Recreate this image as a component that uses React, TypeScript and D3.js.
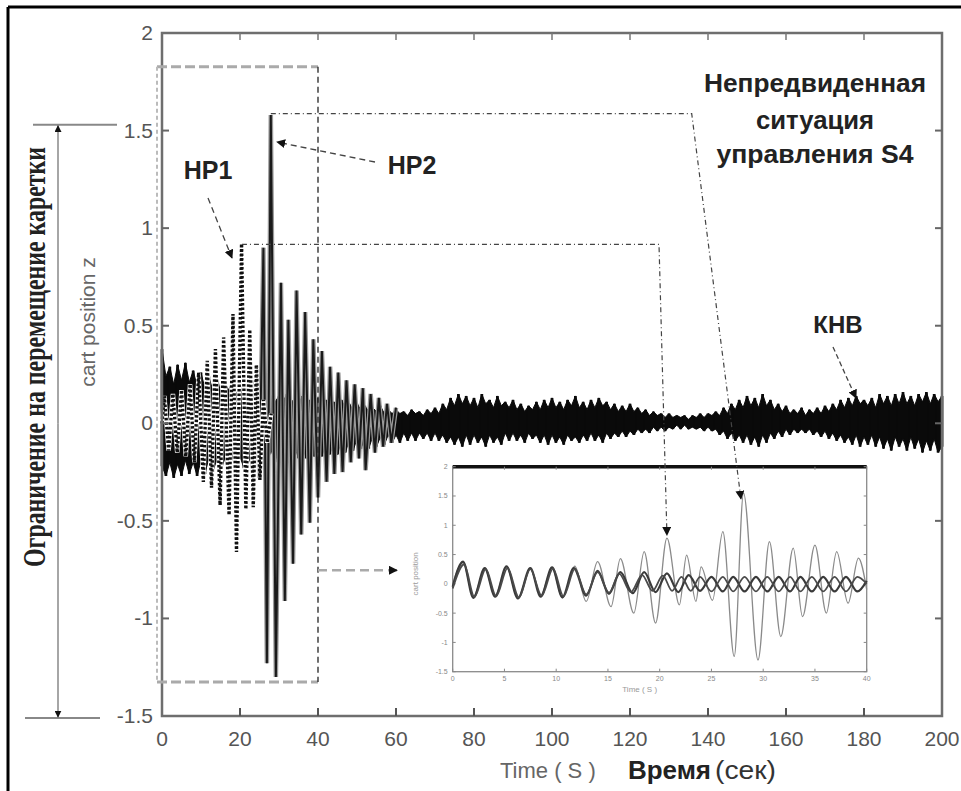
import React from 'react';
import * as d3 from 'd3';

// ---------- DATA ----------
const xTicks = [0, 20, 40, 60, 80, 100, 120, 140, 160, 180, 200];
const yTicks = [-1.5, -1, -0.5, 0, 0.5, 1, 1.5, 2];
const yTickLabels = ['-1.5', '-1', '-0.5', '0', '0.5', '1', '1.5', '2'];
const insetXTicks = [0, 5, 10, 15, 20, 25, 30, 35, 40];
const insetXLabels = ['0', '5', '10', '15', '20', '25', '30', '35', '40'];

// main (controlled) response, envelope at 1 s steps, t = 0..200
const mainUpper = [
  0.38, 0.24, 0.29, 0.20, 0.30, 0.22, 0.31, 0.21, 0.27, 0.19,
  0.26, 0.18, 0.24, 0.17, 0.25, 0.16, 0.22, 0.17, 0.21, 0.15,
  0.19, 0.14, 0.18, 0.13, 0.17, 0.12, 0.15, 0.12, 0.16, 0.11,
  0.14, 0.11, 0.15, 0.10, 0.13, 0.10, 0.14, 0.09, 0.12, 0.10,
  0.13, 0.09, 0.12, 0.08, 0.11, 0.09, 0.12, 0.08, 0.10, 0.07,
  0.10, 0.07, 0.09, 0.06, 0.08, 0.06, 0.09, 0.05, 0.07, 0.05,
  0.07, 0.05, 0.06, 0.04, 0.07, 0.05, 0.06, 0.04, 0.07, 0.05,
  0.08, 0.05, 0.10, 0.07, 0.13, 0.09, 0.15, 0.10, 0.14, 0.09,
  0.13, 0.08, 0.15, 0.10, 0.12, 0.08, 0.14, 0.09, 0.11, 0.08,
  0.12, 0.07, 0.10, 0.06, 0.09, 0.07, 0.11, 0.07, 0.12, 0.08,
  0.13, 0.08, 0.11, 0.07, 0.12, 0.09, 0.14, 0.08, 0.11, 0.07,
  0.12, 0.08, 0.13, 0.09, 0.11, 0.07, 0.10, 0.06, 0.09, 0.06,
  0.10, 0.06, 0.08, 0.05, 0.07, 0.04, 0.06, 0.04, 0.05, 0.03,
  0.05, 0.03, 0.04, 0.03, 0.04, 0.02, 0.04, 0.03, 0.05, 0.03,
  0.05, 0.04, 0.06, 0.04, 0.08, 0.05, 0.10, 0.07, 0.12, 0.08,
  0.14, 0.09, 0.13, 0.08, 0.15, 0.09, 0.12, 0.07, 0.10, 0.06,
  0.09, 0.05, 0.07, 0.05, 0.08, 0.04, 0.07, 0.05, 0.08, 0.05,
  0.09, 0.06, 0.10, 0.07, 0.12, 0.08, 0.13, 0.09, 0.14, 0.10,
  0.12, 0.09, 0.13, 0.08, 0.15, 0.10, 0.14, 0.09, 0.15, 0.10,
  0.16, 0.10, 0.14, 0.09, 0.15, 0.11, 0.16, 0.10, 0.15, 0.11,
  0.14,
];
const mainLower = [
  -0.22, -0.27, -0.20, -0.28, -0.21, -0.27, -0.19, -0.26, -0.20, -0.27,
  -0.19, -0.26, -0.18, -0.25, -0.19, -0.26, -0.18, -0.25, -0.17, -0.24,
  -0.17, -0.23, -0.16, -0.22, -0.15, -0.21, -0.15, -0.20, -0.14, -0.20,
  -0.13, -0.19, -0.13, -0.19, -0.12, -0.18, -0.12, -0.18, -0.11, -0.17,
  -0.11, -0.17, -0.10, -0.16, -0.10, -0.16, -0.09, -0.15, -0.09, -0.14,
  -0.08, -0.13, -0.08, -0.13, -0.07, -0.12, -0.07, -0.11, -0.06, -0.10,
  -0.06, -0.10, -0.05, -0.09, -0.05, -0.09, -0.05, -0.08, -0.05, -0.09,
  -0.05, -0.09, -0.06, -0.10, -0.07, -0.11, -0.07, -0.12, -0.06, -0.11,
  -0.06, -0.10, -0.07, -0.12, -0.06, -0.10, -0.07, -0.11, -0.05, -0.09,
  -0.05, -0.09, -0.06, -0.10, -0.05, -0.08, -0.06, -0.10, -0.06, -0.11,
  -0.06, -0.10, -0.07, -0.11, -0.06, -0.09, -0.07, -0.10, -0.06, -0.09,
  -0.05, -0.09, -0.06, -0.10, -0.05, -0.08, -0.05, -0.07, -0.04, -0.07,
  -0.04, -0.06, -0.03, -0.05, -0.03, -0.05, -0.02, -0.04, -0.02, -0.04,
  -0.02, -0.03, -0.01, -0.03, -0.01, -0.03, -0.02, -0.03, -0.02, -0.04,
  -0.02, -0.04, -0.03, -0.06, -0.04, -0.08, -0.05, -0.09, -0.06, -0.10,
  -0.06, -0.11, -0.07, -0.12, -0.06, -0.10, -0.05, -0.08, -0.04, -0.07,
  -0.03, -0.06, -0.03, -0.05, -0.03, -0.05, -0.03, -0.06, -0.04, -0.07,
  -0.04, -0.08, -0.05, -0.09, -0.06, -0.10, -0.07, -0.11, -0.06, -0.12,
  -0.07, -0.11, -0.06, -0.12, -0.07, -0.13, -0.08, -0.14, -0.07, -0.12,
  -0.08, -0.14, -0.07, -0.13, -0.08, -0.15, -0.09, -0.14, -0.08, -0.15,
  -0.12,
];

// HP1 (dotted) response: turning points
const hp1Time = [0.0, 0.6, 1.7, 2.8, 3.9, 5.0, 6.1, 7.2, 8.3, 9.4, 10.6, 11.6, 12.7, 13.7, 14.9, 15.8, 17.2, 18.2, 19.1, 20.4, 21.5, 22.5, 23.4, 24.2, 25.1, 26.0, 27.0, 28.0];
const hp1Value = [0.0, 0.14, -0.14, 0.15, -0.15, 0.17, -0.17, 0.2, -0.2, 0.26, -0.30, 0.32, -0.33, 0.38, -0.42, 0.44, -0.47, 0.56, -0.66, 0.92, -0.44, 0.48, -0.43, 0.30, -0.29, 0.12, -0.10, 0.05];

// HP2 (grey) response: turning points
const hp2Time = [24.0, 25.0, 26.0, 26.9, 27.9, 29.2, 30.5, 31.5, 32.4, 33.6, 34.5, 35.7, 36.7, 37.9, 38.8, 40.0, 41.0, 42.2, 43.1, 44.2, 45.2, 46.3, 47.3, 48.4, 49.4, 50.5, 51.5, 52.2, 53.5, 54.6, 55.6, 56.7, 57.7, 58.8, 60.0];
const hp2Value = [0.22, -0.28, 0.90, -1.23, 1.58, -1.30, 0.72, -0.91, 0.53, -0.72, 0.68, -0.57, 0.57, -0.51, 0.43, -0.38, 0.37, -0.30, 0.29, -0.26, 0.26, -0.25, 0.22, -0.20, 0.20, -0.18, 0.18, -0.24, 0.15, -0.15, 0.13, -0.12, 0.10, -0.10, 0.08];

// inset (zoom 0..40 s)
const insetLightTime = [0, 1.0, 2.0, 3.1, 4.1, 5.2, 6.3, 7.5, 8.5, 9.6, 10.6, 11.8, 12.9, 14.0, 15.3, 16.2, 17.5, 18.5, 19.6, 20.7, 21.9, 22.6, 23.5, 24.0, 25.1, 26.1, 27.2, 28.1, 29.5, 30.6, 31.7, 32.9, 33.8, 35.0, 36.1, 37.1, 38.2, 39.2, 40.0];
const insetLightValue = [0, 0.36, -0.22, 0.25, -0.20, 0.28, -0.24, 0.26, -0.20, 0.27, -0.24, 0.30, -0.30, 0.38, -0.39, 0.43, -0.50, 0.55, -0.67, 0.78, -0.36, 0.49, -0.30, 0.29, -0.28, 0.89, -1.24, 1.55, -1.30, 0.72, -0.90, 0.61, -0.56, 0.66, -0.50, 0.55, -0.33, 0.44, -0.10];
const insetDarkATime = [0, 1.0, 2.0, 3.1, 4.1, 5.2, 6.3, 7.5, 8.5, 9.6, 10.6, 11.7, 12.9, 14.0, 15.1, 16.2, 17.4, 18.5, 19.6, 20.7, 21.8, 22.8, 23.9, 25.0, 26.1, 27.1, 28.2, 29.3, 30.4, 31.5, 32.6, 33.6, 34.7, 35.8, 36.9, 38.0, 39.1, 40.0];
const insetDarkAValue = [-0.05, 0.38, -0.24, 0.27, -0.22, 0.30, -0.25, 0.27, -0.22, 0.28, -0.23, 0.27, -0.20, 0.22, -0.17, 0.20, -0.16, 0.20, -0.14, 0.18, -0.14, 0.15, -0.12, 0.12, -0.13, 0.12, -0.13, 0.12, -0.13, 0.12, -0.13, 0.12, -0.13, 0.12, -0.13, 0.12, -0.13, 0.05];
const insetDarkBTime = [0, 1.1, 2.1, 3.2, 4.2, 5.3, 6.4, 7.5, 8.6, 9.7, 10.7, 11.8, 12.9, 14.0, 15.1, 16.1, 17.2, 18.3, 19.3, 20.3, 21.2, 22.1, 23.0, 23.9, 25.0, 26.1, 27.1, 28.2, 29.3, 30.4, 31.5, 32.6, 33.6, 34.7, 35.8, 36.9, 38.0, 39.1, 40.0];
const insetDarkBValue = [-0.08, 0.33, -0.22, 0.25, -0.21, 0.27, -0.23, 0.25, -0.20, 0.26, -0.21, 0.25, -0.18, 0.20, -0.15, 0.17, -0.14, 0.15, -0.12, 0.14, -0.12, 0.12, -0.12, 0.12, -0.13, 0.12, -0.13, 0.12, -0.13, 0.12, -0.13, 0.12, -0.13, 0.12, -0.13, 0.12, -0.13, 0.12, 0.0];

// ---------- LAYOUT ----------
const W = 961;
const H = 791;
const SANS = "'Liberation Sans', Arial, sans-serif";
const SERIF = "'Liberation Serif', 'Times New Roman', serif";

export default function App() {
  const x = d3.scaleLinear().domain([0, 200]).range([162, 942]);
  const y = d3.scaleLinear().domain([-1.5, 2]).range([716, 33]);
  const xi = d3.scaleLinear().domain([0, 40]).range([452.7, 866.7]);
  const yi = d3.scaleLinear().domain([-1.5, 2]).range([671.7, 466.7]);

  const mainArea = d3
    .area<number>()
    .x((_, i) => x(i))
    .y0((_, i) => y(mainLower[i]))
    .y1((d) => y(d));

  const hp1Line = d3.line<number>().x((d) => x(d)).y((_, i) => y(hp1Value[i]));
  const hp2Line = d3.line<number>().x((d) => x(d)).y((_, i) => y(hp2Value[i]));

  const insetLine = (vals: number[]) =>
    d3
      .line<number>()
      .x((d) => xi(d))
      .y((_, i) => yi(vals[i]))
      .curve(d3.curveMonotoneX);

  const ix0 = xi(0), ix1 = xi(40), iy0 = yi(2), iy1 = yi(-1.5);

  // annotation anchors
  const boxL = 157, boxR = x(40), boxT = y(1.827), boxB = y(-1.326);
  const hp1Y = y(0.917), hp2Y = y(1.587);

  return (
    <svg width={W} height={H} style={{ position: 'absolute', left: 0, top: 0, background: '#fff' }}>
      <defs>
        <marker id="arr" viewBox="0 0 10 10" refX="9" refY="5" markerWidth="9" markerHeight="9" markerUnits="userSpaceOnUse" orient="auto">
          <path d="M0,0 L10,5 L0,10 z" fill="#111" />
        </marker>
        <marker id="arrS" viewBox="0 0 10 10" refX="9" refY="5" markerWidth="7" markerHeight="7" markerUnits="userSpaceOnUse" orient="auto">
          <path d="M0,0 L10,5 L0,10 z" fill="#111" />
        </marker>
      </defs>
      <rect x={0} y={0} width={W} height={H} fill="#fff" />
      {/* outer frame */}
      <line x1={8} y1={7} x2={W} y2={7} stroke="#000" strokeWidth={3} />
      <line x1={8} y1={7} x2={8} y2={H} stroke="#000" strokeWidth={3} />

      {/* main controlled response: core + spikes */}
      <path d={mainArea(mainUpper) || ''} fill="#0a0a0a" stroke="#0a0a0a" strokeWidth={1} />
      {mainUpper.map((u, i) => (
        <rect key={'mb' + i} x={x(i) - 1.4} y={y(u)} width={2.8} height={y(mainLower[i]) - y(u)} fill="#0a0a0a" />
      ))}

      {/* HP2 grey response */}
      <path d={hp2Line(hp2Time) || ''} fill="none" stroke="#9a9a9a" strokeWidth={4.5} strokeLinejoin="miter" strokeMiterlimit={2} />
      <path d={hp2Line(hp2Time) || ''} fill="none" stroke="#1a1a1a" strokeWidth={2} />

      {/* HP1 dotted response */}
      <path d={hp1Line(hp1Time) || ''} fill="none" stroke="#fff" strokeWidth={4.5} />
      <path d={hp1Line(hp1Time) || ''} fill="none" stroke="#111" strokeWidth={3.4} strokeDasharray="2.5,2" />

      {/* main axes box */}
      <rect x={x(0)} y={y(2)} width={x(200) - x(0)} height={y(-1.5) - y(2)} fill="none" stroke="#6e6e6e" strokeWidth={2.5} />
      {xTicks.slice(1, -1).map((t) => (
        <g key={'xt' + t}>
          <line x1={x(t)} x2={x(t)} y1={y(-1.5)} y2={y(-1.5) - 8} stroke="#555" strokeWidth={2} />
          <line x1={x(t)} x2={x(t)} y1={y(2)} y2={y(2) + 7} stroke="#777" strokeWidth={1.5} />
        </g>
      ))}
      {yTicks.slice(1, -1).map((t) => (
        <g key={'yt' + t}>
          <line x1={x(0)} x2={x(0) + 7} y1={y(t)} y2={y(t)} stroke="#666" strokeWidth={2} />
          <line x1={x(200)} x2={x(200) - 7} y1={y(t)} y2={y(t)} stroke="#666" strokeWidth={2} />
        </g>
      ))}
      {xTicks.map((t) => (
        <text key={'xl' + t} x={x(t)} y={746} textAnchor="middle" fontFamily={SANS} fontSize={21} fill="#555">
          {String(t)}
        </text>
      ))}
      {yTicks.map((t, i) => (
        <text key={'yl' + t} x={153} y={y(t) + 7} textAnchor="end" fontFamily={SANS} fontSize={21} fill="#555">
          {yTickLabels[i]}
        </text>
      ))}

      {/* axis titles */}
      <text x={500} y={778} fontFamily={SANS} fontSize={22} fill="#666">Time ( S )</text>
      <text x={628} y={779} fontFamily={SANS} fontSize={25} fontWeight="bold" fill="#222" textLength={83} lengthAdjust="spacingAndGlyphs">Время</text>
      <text x={715} y={779} fontFamily={SANS} fontSize={25} fill="#333" textLength={61} lengthAdjust="spacingAndGlyphs">(сек)</text>
      <text transform="translate(95,322) rotate(-90)" textAnchor="middle" fontFamily={SANS} fontSize={21} fill="#666">cart position z</text>
      <text transform="translate(45,357) rotate(-90)" textAnchor="middle" fontFamily={SERIF} fontSize={32} fontWeight="bold" fill="#222" textLength={420} lengthAdjust="spacingAndGlyphs">
        Ограничение на перемещение каретки
      </text>

      {/* constraint double arrow */}
      <line x1={33} x2={117} y1={y(1.53)} y2={y(1.53)} stroke="#888" strokeWidth={2} />
      <line x1={25} x2={100} y1={y(-1.51)} y2={y(-1.51)} stroke="#888" strokeWidth={2} />
      <line x1={58} x2={58} y1={y(0)} y2={y(1.53) + 1} stroke="#888" strokeWidth={1.5} markerEnd="url(#arrS)" />
      <line x1={58} x2={58} y1={y(0)} y2={y(-1.51) - 1} stroke="#888" strokeWidth={1.5} markerEnd="url(#arrS)" />

      {/* zoom box */}
      <line x1={boxL} x2={boxR} y1={boxT} y2={boxT} stroke="#aaa" strokeWidth={3} strokeDasharray="10,4" />
      <line x1={boxL} x2={boxR} y1={boxB} y2={boxB} stroke="#aaa" strokeWidth={3} strokeDasharray="10,4" />
      <line x1={boxL} x2={boxL} y1={boxT} y2={boxB} stroke="#bbb" strokeWidth={2} strokeDasharray="4,3" />
      <line x1={boxR} x2={boxR} y1={boxT} y2={boxB} stroke="#222" strokeWidth={1.3} strokeDasharray="6,4" />
      <line x1={boxR} x2={397} y1={y(-0.753)} y2={y(-0.753)} stroke="#aaa" strokeWidth={2.5} strokeDasharray="9,5" markerEnd="url(#arr)" />

      {/* inset */}
      <rect x={ix0} y={iy0} width={ix1 - ix0} height={iy1 - iy0} fill="#fff" stroke="#8a8a8a" strokeWidth={1.3} />
      <line x1={ix0} x2={ix1} y1={iy0} y2={iy0} stroke="#111" strokeWidth={3.5} />
      {insetXTicks.map((t, i) => (
        <g key={'ixt' + t}>
          <line x1={xi(t)} x2={xi(t)} y1={iy1} y2={iy1 - 3} stroke="#888" strokeWidth={1} />
          <line x1={xi(t)} x2={xi(t)} y1={iy0} y2={iy0 + 3} stroke="#888" strokeWidth={1} />
          <text x={xi(t)} y={iy1 + 9} textAnchor="middle" fontFamily={SANS} fontSize={7} fill="#888">{insetXLabels[i]}</text>
        </g>
      ))}
      {yTicks.map((t, i) => (
        <g key={'iyt' + t}>
          <line x1={ix0} x2={ix0 + 3} y1={yi(t)} y2={yi(t)} stroke="#888" strokeWidth={1} />
          <line x1={ix1} x2={ix1 - 3} y1={yi(t)} y2={yi(t)} stroke="#888" strokeWidth={1} />
          <text x={ix0 - 5} y={yi(t) + 2.5} textAnchor="end" fontFamily={SANS} fontSize={7} fill="#888">{yTickLabels[i]}</text>
        </g>
      ))}
      <text x={(ix0 + ix1) / 2 - 20} y={iy1 + 20} textAnchor="middle" fontFamily={SANS} fontSize={8} fill="#999">Time ( S )</text>
      <text transform={`translate(418,${yi(0) - 10}) rotate(-90)`} textAnchor="middle" fontFamily={SANS} fontSize={8} fill="#999">cart position</text>
      <path d={insetLine(insetLightValue)(insetLightTime) || ''} fill="none" stroke="#8a8a8a" strokeWidth={1.3} />
      <path d={insetLine(insetDarkAValue)(insetDarkATime) || ''} fill="none" stroke="#3a3a3a" strokeWidth={2.2} />
      <path d={insetLine(insetDarkBValue)(insetDarkBTime) || ''} fill="none" stroke="#4a4a4a" strokeWidth={1.8} />

      {/* HP1 leader */}
      <path
        d={`M${x(20.5)},${hp1Y} L659,${hp1Y} L${xi(20.7)},${yi(0.8) - 2}`}
        fill="none" stroke="#444" strokeWidth={1.2} strokeDasharray="5,3,1,3" markerEnd="url(#arr)"
      />
      {/* HP2 leader */}
      <path
        d={`M${x(27.9)},${hp2Y} L691.7,${hp2Y} L${xi(27.85)},${yi(1.45)}`}
        fill="none" stroke="#444" strokeWidth={1.2} strokeDasharray="5,3,1,3" markerEnd="url(#arr)"
      />

      {/* labels */}
      <text x={208} y={179} textAnchor="middle" fontFamily={SANS} fontSize={25} fontWeight="bold" fill="#222">HP1</text>
      <line x1={208} y1={198} x2={232} y2={258} stroke="#444" strokeWidth={1.3} strokeDasharray="6,4" markerEnd="url(#arr)" />
      <text x={412} y={174} textAnchor="middle" fontFamily={SANS} fontSize={25} fontWeight="bold" fill="#222">HP2</text>
      <line x1={375} y1={162} x2={277} y2={142} stroke="#444" strokeWidth={1.3} strokeDasharray="6,4" markerEnd="url(#arr)" />

      <text x={815} y={92} textAnchor="middle" fontFamily={SANS} fontSize={26} fontWeight="bold" fill="#222" textLength={222} lengthAdjust="spacingAndGlyphs">Непредвиденная</text>
      <text x={815} y={129} textAnchor="middle" fontFamily={SANS} fontSize={26} fontWeight="bold" fill="#222" textLength={118} lengthAdjust="spacingAndGlyphs">ситуация</text>
      <text x={815} y={163} textAnchor="middle" fontFamily={SANS} fontSize={26} fontWeight="bold" fill="#222" textLength={197} lengthAdjust="spacingAndGlyphs">управления S4</text>

      <text x={838} y={333} textAnchor="middle" fontFamily={SANS} fontSize={24} fontWeight="bold" fill="#222">КНВ</text>
      <line x1={833} y1={347} x2={856} y2={398} stroke="#444" strokeWidth={1.3} strokeDasharray="5,3" markerEnd="url(#arr)" />
    </svg>
  );
}
